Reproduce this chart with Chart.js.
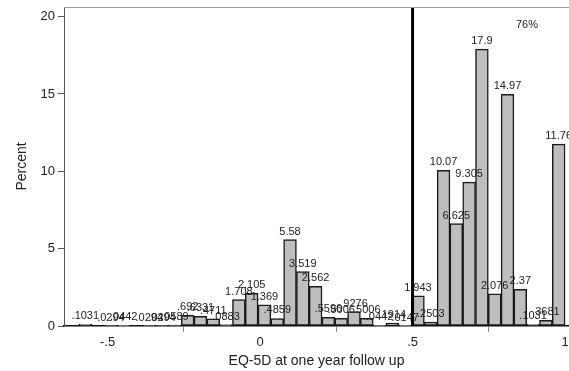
<!DOCTYPE html>
<html>
<head>
<meta charset="utf-8">
<script src="https://cdn.jsdelivr.net/npm/chart.js@4.4.1/dist/chart.umd.min.js"></script>
<style>
  html, body { margin: 0; padding: 0; background: #fff; }
</style>
</head>
<body>
<canvas id="histChart" width="569" height="371"></canvas>
<script>
// histogram bins: EQ-5D at one year follow up
const binStart = -0.594;
const binWidth = 0.04195;
// percent in each bin (null = empty bin)
const percents = [
  0.1031, null, 0.0294, 0.0442, null, 0.0294, 0.0294, 0.0589,
  0.692, 0.6331, 0.4711, 0.0883, 1.708, 2.105, 1.369, 0.4859,
  5.58, 3.519, 2.562, 0.5596, 0.5006, 0.9276, 0.5006, 0.0442,
  0.1914, 0.0147, 1.943, 0.2503, 10.07, 6.625, 9.305, 17.9,
  2.076, 14.97, 2.37, 0.1031, 0.3681, 11.76
];
const xTicks = [-0.5, 0, 0.5, 1];
const yTicks = [0, 5, 10, 15, 20];
const refLine = 0.5;
const noteText = "76%";
const notePos = [0.875, 19.46];

const FONT = "'Liberation Sans', Arial, sans-serif";

const points = percents.map(function (p, i) {
    return { x: binStart + (i + 0.5) * binWidth, y: p };
});

// stata style numbers: .5 instead of 0.5
function stataNum(v) {
    if (v === 0) return "0";
    return String(Number(v.toPrecision(4))).replace(/^(-?)0\./, "$1.");
}

const extras = {
    id: "extras",
    afterDatasetsDraw: function (chart) {
        const ctx = chart.ctx;
        const area = chart.chartArea;
        const xs = chart.scales.x, ys = chart.scales.y;
        const meta = chart.getDatasetMeta(0);
        ctx.save();

        // bar labels
        ctx.font = "11px " + FONT;
        ctx.fillStyle = "#222";
        ctx.textAlign = "center";
        ctx.textBaseline = "alphabetic";
        meta.data.forEach(function (bar, i) {
            const v = percents[i];
            if (v === null) return;
            ctx.fillText(stataNum(v), bar.x, bar.y - 5);
        });

        // reference line
        const lx = xs.getPixelForValue(refLine);
        ctx.strokeStyle = "#000";
        ctx.lineWidth = 3;
        ctx.beginPath();
        ctx.moveTo(lx, area.top);
        ctx.lineTo(lx, area.bottom);
        ctx.stroke();

        // note
        ctx.font = "11px " + FONT;
        ctx.textBaseline = "middle";
        ctx.fillText(noteText, xs.getPixelForValue(notePos[0]), ys.getPixelForValue(notePos[1]));

        // top border of plot region
        ctx.strokeStyle = "#999";
        ctx.lineWidth = 1;
        ctx.beginPath();
        ctx.moveTo(area.left, area.top + 0.5);
        ctx.lineTo(area.right, area.top + 0.5);
        ctx.stroke();

        ctx.restore();
    }
};

const ctx = document.getElementById("histChart").getContext("2d");
new Chart(ctx, {
    type: "bar",
    data: {
        datasets: [{
            data: points,
            backgroundColor: "#bebebe",
            borderColor: "#1a1a1a",
            borderWidth: 1.5,
            borderSkipped: false,
            barPercentage: 1,
            categoryPercentage: 1
        }]
    },
    options: {
        responsive: false,
        animation: false,
        layout: { padding: { top: 7, left: 0, right: 0, bottom: 0 } },
        plugins: {
            legend: { display: false },
            tooltip: { enabled: false }
        },
        scales: {
            x: {
                type: "linear",
                min: -0.643,
                max: 1.013,
                offset: false,
                afterBuildTicks: function (s) { s.ticks = xTicks.map(function (v) { return { value: v }; }); },
                afterFit: function (s) {
                    s.height = 45;
                    s.paddingLeft = 0;
                    s.paddingRight = 0;
                },
                ticks: {
                    callback: function (v) { return stataNum(v); },
                    font: { family: FONT, size: 13 },
                    color: "#222",
                    padding: 3,
                    maxRotation: 0,
                    autoSkip: false
                },
                grid: { drawOnChartArea: false, tickLength: 6, color: "#888" },
                border: { color: "#111", width: 1.5 },
                title: {
                    display: true,
                    text: "EQ-5D at one year follow up",
                    font: { family: FONT, size: 14 },
                    color: "#222",
                    padding: { top: 0, bottom: 1 }
                }
            },
            y: {
                min: 0,
                max: 20.62,
                afterBuildTicks: function (s) { s.ticks = yTicks.map(function (v) { return { value: v }; }); },
                afterFit: function (s) {
                    s.width = 64;
                    s.paddingTop = 0;
                    s.paddingBottom = 0;
                },
                ticks: {
                    callback: function (v) { return stataNum(v); },
                    font: { family: FONT, size: 13 },
                    color: "#222",
                    padding: 3
                },
                grid: { drawOnChartArea: false, tickLength: 6, color: "#555" },
                border: { color: "#555", width: 1 },
                title: {
                    display: true,
                    text: "Percent",
                    font: { family: FONT, size: 14 },
                    color: "#222",
                    padding: { top: 14, bottom: 0 }
                }
            }
        }
    },
    plugins: [extras]
});
</script>
</body>
</html>
